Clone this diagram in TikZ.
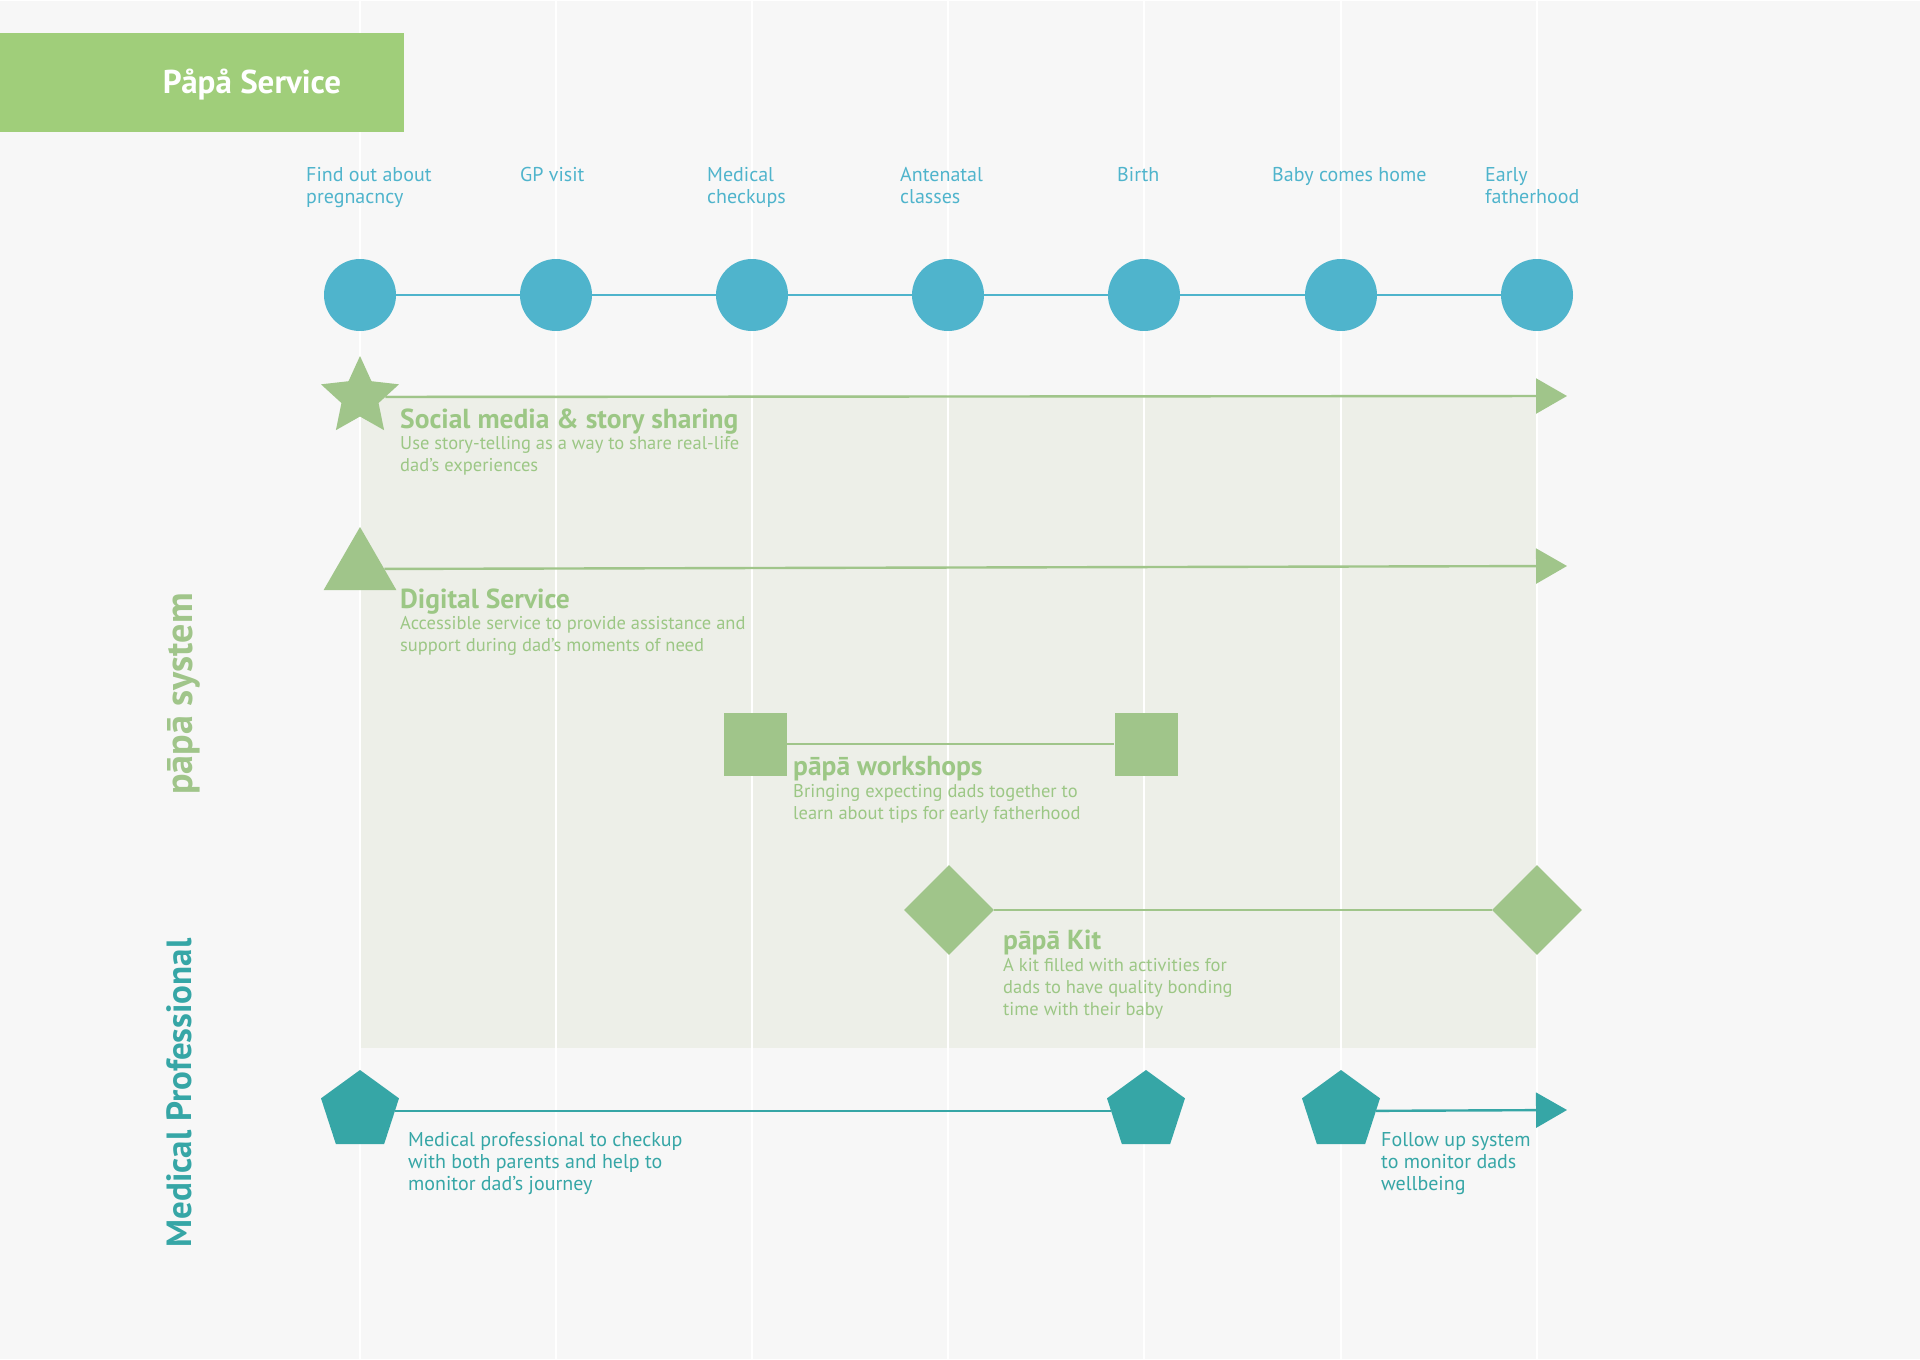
\documentclass[tikz,border=0pt]{standalone}
\usepackage{fontspec}
\setmainfont{PT Sans}
\usetikzlibrary{shapes.geometric,arrows.meta}
\definecolor{paper}{HTML}{F7F7F7}
\definecolor{band}{HTML}{EDEFE8}
\definecolor{leaf}{HTML}{A0C58A}
\definecolor{leaftext}{HTML}{9CC785}
\definecolor{titlegreen}{HTML}{A0CE7A}
\definecolor{sky}{HTML}{4FB4CC}
\definecolor{medteal}{HTML}{36A6A6}
\begin{document}
\begin{tikzpicture}[x=1pt, y=-1pt,
    stage/.style={circle, fill=sky, minimum size=72pt, inner sep=0pt},
    stagetext/.style={anchor=base west, align=left, inner sep=0pt, text=sky, font=\fontsize{20}{22}\selectfont},
    heading/.style={anchor=base west, inner sep=0pt, text=leaftext, font=\fontsize{27.5}{30}\selectfont\bfseries},
    blurb/.style={anchor=base west, align=left, inner sep=0pt, text=leaftext, font=\fontsize{18.5}{22}\selectfont},
    medblurb/.style={blurb, text=medteal, font=\fontsize{20}{22}\selectfont},
    token/.style={fill=leaf, inner sep=0pt},
    medtoken/.style={regular polygon, regular polygon sides=5, fill=medteal, minimum size=82pt, inner sep=0pt},
    leafline/.style={draw=leaf, line width=2.4pt},
    medline/.style={draw=medteal, line width=2.4pt},
    tip/.style={-{Triangle[length=31pt,width=35pt]}},
    side/.style={anchor=base, rotate=90, inner sep=0pt, font=\fontsize{35}{38}\selectfont\bfseries}]
  % page, band and grid
  \fill[paper] (0,0) rectangle (1920,1358);
  \fill[band] (360,394) rectangle (1536,1047);
  \foreach \x in {360,556,752,948,1144,1341,1537}
    \draw[white, line width=2pt] (\x,0) -- (\x,1358);
  % title
  \fill[titlegreen] (0,32) rectangle (404,131);
  \node[anchor=base, text=white, inner sep=0pt, font=\fontsize{33}{36}\selectfont\bfseries] (title) at (252,92) {Påpå Service};
  % journey stages (multi-line texts sit on their last baseline)
  \foreach \x [count=\i] in {360,556,752,948,1144,1341,1537}
    \node[stage] (s\i) at (\x,294) {};
  \foreach \i/\j in {1/2,2/3,3/4,4/5,5/6,6/7}
    \draw[sky, line width=2.4pt] (s\i) -- (s\j);
  \node[stagetext] (find) at (306,202) {Find out about\\pregnacncy};
  \node[stagetext] (gp) at (520,180) {GP visit};
  \node[stagetext] (checkups) at (707,202) {Medical\\checkups};
  \node[stagetext] (antenatal) at (900,202) {Antenatal\\classes};
  \node[stagetext] (birth) at (1117,180) {Birth};
  \node[stagetext] (home) at (1272,180) {Baby comes home};
  \node[stagetext] (early) at (1485,202) {Early\\fatherhood};
  % papa system
  \node[token, star, star points=5, star point ratio=2.1, minimum size=82pt] (social) at (360,396) {};
  \coordinate (socialend) at (1567,395);
  \draw[leafline, tip] (social) -- (socialend);
  \node[heading] (socialhead) at (400,427) {Social media \& story sharing};
  \node[blurb] (socialtext) at (400,470) {Use story-telling as a way to share real-life\\dad’s experiences};

  \node[token, regular polygon, regular polygon sides=3, minimum size=84pt] (digital) at (360,568) {};
  \coordinate (digitalend) at (1567,565);
  \draw[leafline, tip] (digital) -- (digitalend);
  \node[heading] (digitalhead) at (400,607) {Digital Service};
  \node[blurb] (digitaltext) at (400,650) {Accessible service to provide assistance and\\support during dad’s moments of need};

  \node[token, rectangle, minimum size=63pt] (shopa) at (755,743) {};
  \node[token, rectangle, minimum size=63pt] (shopb) at (1146,743) {};
  \draw[leafline] (shopa) -- (shopb);
  \node[heading] (shophead) at (793,774) {pāpā workshops};
  \node[blurb] (shoptext) at (793,818) {Bringing expecting dads together to\\learn about tips for early fatherhood};

  \node[token, diamond, minimum size=90pt] (kita) at (949,909) {};
  \node[token, diamond, minimum size=90pt] (kitb) at (1537,909) {};
  \draw[leafline] (kita) -- (kitb);
  \node[heading] (kithead) at (1003,948) {pāpā Kit};
  \node[blurb] (kittext) at (1003,1014) {A kit filled with activities for\\dads to have quality bonding\\time with their baby};
  % medical professional
  \node[medtoken] (meda) at (360,1110) {};
  \node[medtoken] (medb) at (1146,1110) {};
  \node[medtoken] (medc) at (1341,1110) {};
  \coordinate (medend) at (1567,1109);
  \draw[medline] (meda) -- (medb);
  \draw[medline, tip] (medc) -- (medend);
  \node[medblurb] (medtext) at (408,1189) {Medical professional to checkup\\with both parents and help to\\monitor dad's journey};
  \node[medblurb] (followtext) at (1381,1189) {Follow up system\\to monitor dads\\wellbeing};
  % side labels
  \node[side, text=leaf, font=\fontsize{38}{40}\selectfont\bfseries] (papa) at (192,693) {pāpā system};
  \node[side, text=medteal] (medical) at (191,1092) {Medical Professional};
\end{tikzpicture}
\end{document}
